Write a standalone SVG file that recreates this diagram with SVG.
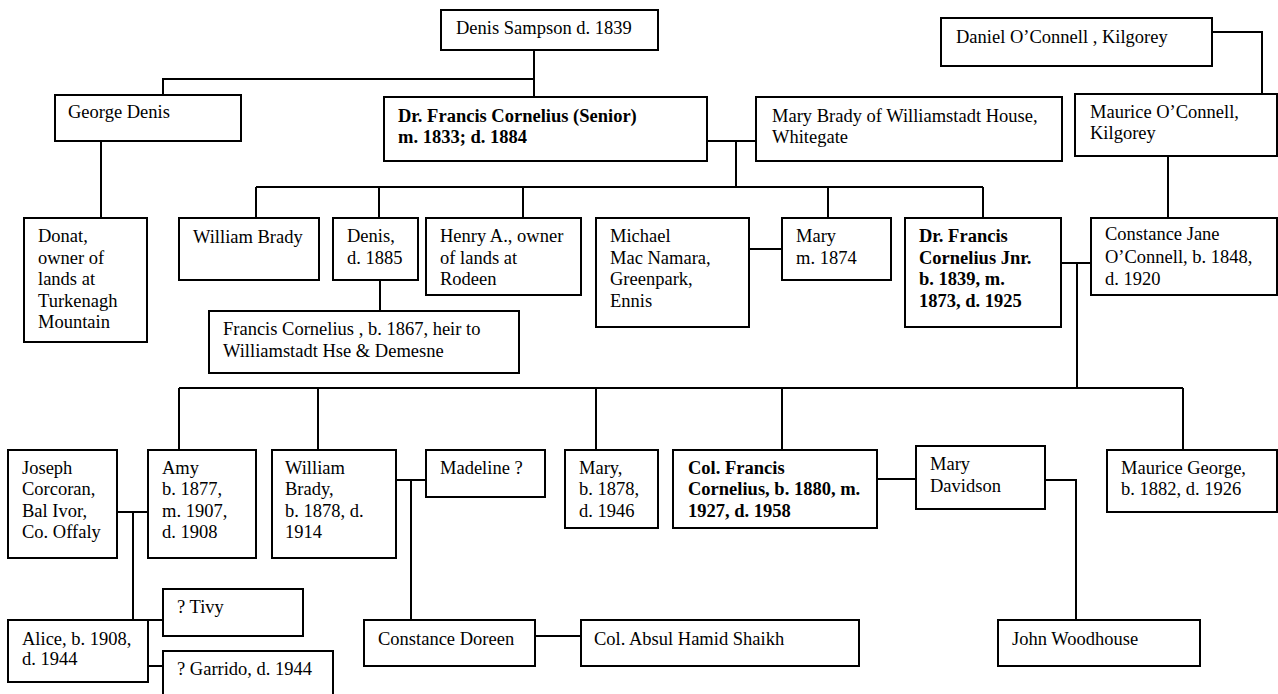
<svg xmlns="http://www.w3.org/2000/svg" width="1278" height="694" viewBox="0 0 1278 694">
<style>
.box{fill:#fff;stroke:#000;stroke-width:2}
.t{font-family:"Liberation Serif","Times New Roman",serif;font-size:18.5px;fill:#000}
.b{font-weight:bold}
.c{fill:none;stroke:#000;stroke-width:2}
</style>
<rect width="1278" height="694" fill="#fff"/>
<g id="connectors" class="c">
<path d="M534,50 V97 M534,79 H163 V95"/>
<path d="M101,141 V218"/>
<path d="M707,141 H756 M736,141 V187 M256,187 H983 M256,187 V218 M379,187 V218 M523,187 V218 M828,187 V218 M983,187 V218"/>
<path d="M380,280 V311"/>
<path d="M749,249 H782"/>
<path d="M1212,32 H1262 V94"/>
<path d="M1168,156 V218"/>
<path d="M1061,263 H1091 M1077,263 V388 M179,388 H1183 M179,388 V450 M318,388 V450 M596,388 V450 M782,388 V450 M1183,388 V450"/>
<path d="M117,512 H148 M133,512 V620"/>
<path d="M148,620 H163 M148,666 H163"/>
<path d="M396,480 H426 M411,480 V620"/>
<path d="M535,636 H581"/>
<path d="M877,479 H916"/>
<path d="M1045,480 H1076 V620"/>
</g>
<g id="denis-sampson"><rect class="box" x="441" y="10" width="217" height="40"/><text class="t" x="456" y="34">Denis Sampson d. 1839</text></g>
<g id="george-denis"><rect class="box" x="55" y="95" width="186" height="46"/><text class="t" x="68" y="118">George Denis</text></g>
<g id="francis-senior"><rect class="box" x="384" y="97" width="323" height="64"/><text class="t b" x="398"><tspan x="398" y="122">Dr. Francis Cornelius (Senior)</tspan><tspan x="398" y="143">m. 1833; d. 1884</tspan></text></g>
<g id="mary-brady"><rect class="box" x="756" y="97" width="306" height="64"/><text class="t" x="772"><tspan x="772" y="122">Mary Brady of Williamstadt House,</tspan><tspan x="772" y="143">Whitegate</tspan></text></g>
<g id="daniel-oconnell"><rect class="box" x="941" y="18" width="271" height="48"/><text class="t" x="956" y="43">Daniel O’Connell , Kilgorey</text></g>
<g id="maurice-oconnell"><rect class="box" x="1075" y="94" width="202" height="62"/><text class="t"><tspan x="1090" y="118">Maurice O’Connell,</tspan><tspan x="1090" y="139">Kilgorey</tspan></text></g>
<g id="donat"><rect class="box" x="24" y="218" width="123" height="124"/><text class="t"><tspan x="38" y="242">Donat,</tspan><tspan x="38" y="263.5">owner of</tspan><tspan x="38" y="285">lands at</tspan><tspan x="38" y="306.5">Turkenagh</tspan><tspan x="38" y="328">Mountain</tspan></text></g>
<g id="william-brady-sr"><rect class="box" x="179" y="218" width="140" height="62"/><text class="t" x="193" y="243">William Brady</text></g>
<g id="denis-1885"><rect class="box" x="333" y="218" width="85" height="62"/><text class="t"><tspan x="347" y="242">Denis,</tspan><tspan x="347" y="263.5">d. 1885</tspan></text></g>
<g id="francis-heir"><rect class="box" x="209" y="311" width="310" height="62"/><text class="t"><tspan x="223" y="335">Francis Cornelius , b. 1867, heir to</tspan><tspan x="223" y="356.5">Williamstadt Hse &amp; Demesne</tspan></text></g>
<g id="henry-a"><rect class="box" x="426" y="218" width="155" height="77"/><text class="t"><tspan x="440" y="242">Henry A., owner</tspan><tspan x="440" y="263.5">of lands at</tspan><tspan x="440" y="285">Rodeen</tspan></text></g>
<g id="michael-macnamara"><rect class="box" x="596" y="218" width="153" height="109"/><text class="t"><tspan x="610" y="242">Michael</tspan><tspan x="610" y="263.5">Mac Namara,</tspan><tspan x="610" y="285">Greenpark,</tspan><tspan x="610" y="306.5">Ennis</tspan></text></g>
<g id="mary-1874"><rect class="box" x="782" y="218" width="109" height="62"/><text class="t"><tspan x="796" y="242">Mary</tspan><tspan x="796" y="263.5">m. 1874</tspan></text></g>
<g id="francis-jnr"><rect class="box" x="905" y="218" width="156" height="109"/><text class="t b"><tspan x="919" y="242">Dr. Francis</tspan><tspan x="919" y="263.5">Cornelius Jnr.</tspan><tspan x="919" y="285">b. 1839, m.</tspan><tspan x="919" y="306.5">1873, d. 1925</tspan></text></g>
<g id="constance-jane"><rect class="box" x="1091" y="218" width="186" height="77"/><text class="t"><tspan x="1105" y="240">Constance Jane</tspan><tspan x="1105" y="262.5">O’Connell, b. 1848,</tspan><tspan x="1105" y="285">d. 1920</tspan></text></g>
<g id="joseph-corcoran"><rect class="box" x="8" y="450" width="109" height="108"/><text class="t"><tspan x="22" y="473.5">Joseph</tspan><tspan x="22" y="495">Corcoran,</tspan><tspan x="22" y="516.5">Bal Ivor,</tspan><tspan x="22" y="538">Co. Offaly</tspan></text></g>
<g id="amy"><rect class="box" x="148" y="450" width="108" height="108"/><text class="t"><tspan x="162" y="473.5">Amy</tspan><tspan x="162" y="495">b. 1877,</tspan><tspan x="162" y="516.5">m. 1907,</tspan><tspan x="162" y="538">d. 1908</tspan></text></g>
<g id="william-brady-jr"><rect class="box" x="272" y="450" width="124" height="108"/><text class="t"><tspan x="285" y="473.5">William</tspan><tspan x="285" y="495">Brady,</tspan><tspan x="285" y="516.5">b. 1878, d.</tspan><tspan x="285" y="538">1914</tspan></text></g>
<g id="madeline"><rect class="box" x="426" y="450" width="119" height="47"/><text class="t" x="440" y="474">Madeline ?</text></g>
<g id="mary-1946"><rect class="box" x="565" y="450" width="93" height="78"/><text class="t"><tspan x="579" y="473.5">Mary,</tspan><tspan x="579" y="495">b. 1878,</tspan><tspan x="579" y="516.5">d. 1946</tspan></text></g>
<g id="col-francis"><rect class="box" x="673" y="450" width="204" height="78"/><text class="t b"><tspan x="688" y="473.5">Col. Francis</tspan><tspan x="688" y="495">Cornelius, b. 1880, m.</tspan><tspan x="688" y="516.5">1927, d. 1958</tspan></text></g>
<g id="mary-davidson"><rect class="box" x="916" y="446" width="129" height="63"/><text class="t"><tspan x="930" y="470">Mary</tspan><tspan x="930" y="491.5">Davidson</tspan></text></g>
<g id="maurice-george"><rect class="box" x="1107" y="450" width="170" height="62"/><text class="t"><tspan x="1121" y="473.5">Maurice George,</tspan><tspan x="1121" y="495">b. 1882, d. 1926</tspan></text></g>
<g id="tivy"><rect class="box" x="163" y="589" width="140" height="47"/><text class="t" x="177" y="613">? Tivy</text></g>
<g id="alice"><rect class="box" x="8" y="620" width="140" height="62"/><text class="t"><tspan x="22" y="645">Alice, b. 1908,</tspan><tspan x="22" y="665">d. 1944</tspan></text></g>
<g id="garrido"><rect class="box" x="163" y="651" width="170" height="60"/><text class="t" x="177" y="675">? Garrido, d. 1944</text></g>
<g id="constance-doreen"><rect class="box" x="364" y="620" width="171" height="46"/><text class="t" x="378" y="645">Constance Doreen</text></g>
<g id="col-absul"><rect class="box" x="581" y="620" width="278" height="46"/><text class="t" x="594" y="644.5">Col. Absul Hamid Shaikh</text></g>
<g id="john-woodhouse"><rect class="box" x="998" y="620" width="202" height="46"/><text class="t" x="1012" y="645">John Woodhouse</text></g>
</svg>
